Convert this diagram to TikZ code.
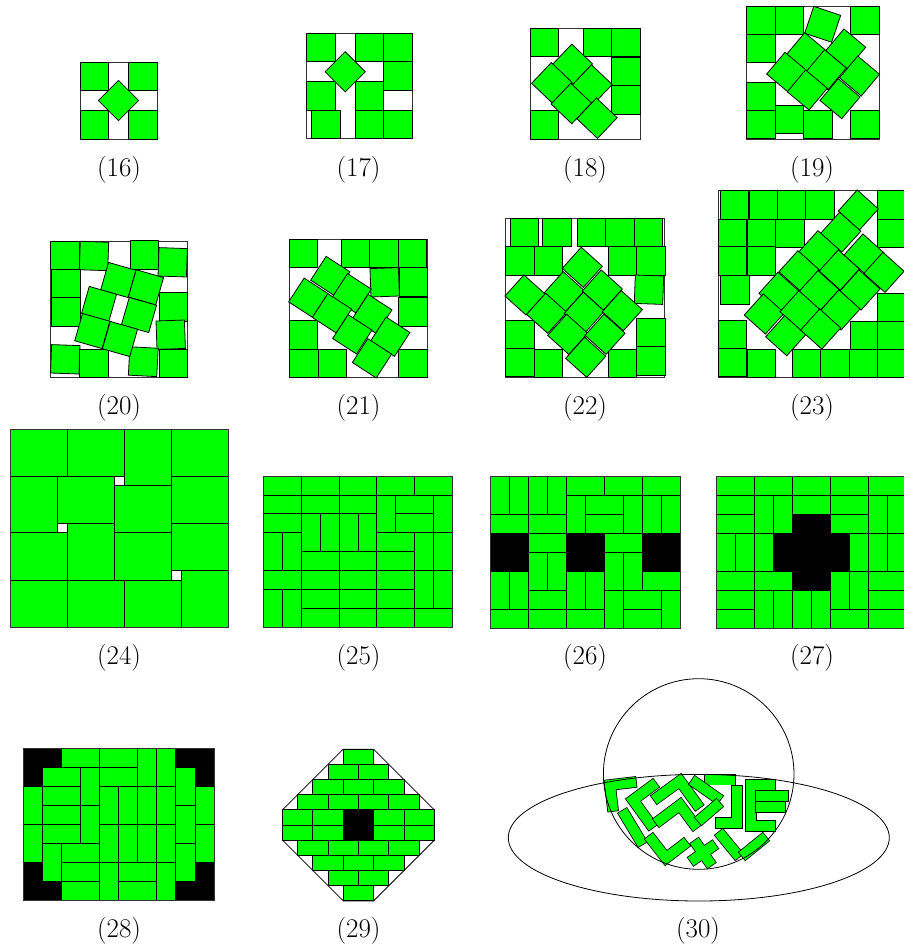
\documentclass[tikz,border=0pt]{standalone}
\usepackage{tikz}
\definecolor{grn}{RGB}{0,255,0}
\tikzset{
  sq/.style={fill=grn, draw=black, line width=0.8pt},
  frame/.style={draw=black!80, line width=0.8pt},
  lbl/.style={font=\fontsize{27}{32}\selectfont, inner sep=0pt, anchor=center},
  pcb/.style={line width=11.6pt, draw=black, line cap=rect, line join=miter},
  pcg/.style={line width=10pt, draw=grn, line cap=rect, line join=miter},
}
\newcommand{\Sq}[4]{\draw[sq, shift={(#1,#2)}, rotate={-1*(#3)}] (-#4/2,-#4/2) rectangle (#4/2,#4/2);}
\newcommand{\Sa}[3]{\draw[sq] (#1,#2) rectangle ++(#3,#3);}
\newcommand{\Hd}[2]{\draw[sq] (#1,#2) rectangle ++(2,1);}
\newcommand{\Vd}[2]{\draw[sq] (#1,#2) rectangle ++(1,2);}
\newcommand{\Bk}[4]{\fill[black] (#1,#2) rectangle ++(#3,#4);}
\newcommand{\Pc}[1]{\draw[pcb] #1; \draw[pcg] #1;}
\begin{document}
\begin{tikzpicture}[x=1pt,y=-1pt]
\useasboundingbox (0,0) rectangle (903,951);
% ---------- labels
\node[lbl] (l16) at (119,169.5) {(16)};
\node[lbl] (l17) at (358.5,169.5) {(17)};
\node[lbl] (l18) at (585,169.5) {(18)};
\node[lbl] (l19) at (812,169.5) {(19)};
\node[lbl] (l20) at (119,408) {(20)};
\node[lbl] (l21) at (358.5,408) {(21)};
\node[lbl] (l22) at (585,408) {(22)};
\node[lbl] (l23) at (812,408) {(23)};
\node[lbl] (l24) at (119,658) {(24)};
\node[lbl] (l25) at (358.5,658) {(25)};
\node[lbl] (l26) at (585,658) {(26)};
\node[lbl] (l27) at (812,658) {(27)};
\node[lbl] (l28) at (119,931) {(28)};
\node[lbl] (l29) at (358.5,931) {(29)};
\node[lbl] (l30) at (698,931) {(30)};
% ---------- (16)
\draw[frame] (80,62) rectangle (157,139);
\Sa{80}{62}{28.44} \Sa{128.56}{62}{28.44} \Sa{80}{110.56}{28.44} \Sa{128.56}{110.56}{28.44}
\Sq{118.5}{100.5}{45}{28.44}
% ---------- (17)
\draw[frame] (306.7,33.3) rectangle (412,138.6);
\Sa{306.7}{33.3}{28.4} \Sa{355.2}{33.3}{28.4} \Sa{383.6}{33.3}{28.4} \Sa{383.6}{61.7}{28.4}
\Sa{306.7}{81.8}{28.4} \Sa{355.2}{81.8}{28.4} \Sa{311.8}{110.2}{28.4} \Sa{355.2}{110.2}{28.4} \Sa{383.6}{110.2}{28.4}
\Sq{345.2}{71.8}{45}{28.4}
% ---------- (18)
\draw[frame] (530,28.3) rectangle (640.7,139);
\Sa{530}{28.3}{28.55} \Sa{583.3}{28.3}{28.55} \Sa{611.7}{28.3}{28.55} \Sa{611.7}{56.9}{28.55} \Sa{611.7}{85.8}{28.55} \Sa{530}{110.4}{28.55}
\Sq{572.3}{64.3}{43.6}{28.55} \Sq{551.8}{82.8}{43.6}{28.55} \Sq{592}{85}{43.6}{28.55} \Sq{571.3}{103.5}{43.6}{28.55} \Sq{597}{118.2}{43.6}{28.55}
% ---------- (19)
\draw[frame] (746.7,6) rectangle (879,139.3);
\Sa{746.7}{6}{28.4} \Sa{775.1}{6}{28.4} \Sa{850.6}{6}{28.4} \Sa{746.7}{34.4}{28.4} \Sa{746.7}{82}{28.4} \Sa{746.7}{110.4}{28.4}
\Sa{775.1}{105}{28.4} \Sa{803.5}{110.4}{28.4} \Sa{850.6}{110.4}{28.4}
\Sq{822.7}{24.3}{18.6}{28.4}
\Sq{806.5}{52.7}{40}{28.4} \Sq{845.7}{49}{40}{28.4} \Sq{786.7}{72.3}{40}{28.4} \Sq{826.3}{69.7}{40}{28.4}
\Sq{859.5}{76}{40}{28.4} \Sq{807.3}{90}{40}{28.4} \Sq{840}{98.7}{40}{28.4}
% ---------- (20)
\draw[frame] (50.7,241) rectangle (187.7,377.7);
\Sq{64.8}{255.2}{0}{28.4} \Sq{94}{256}{2}{28.4} \Sq{144.3}{255}{0}{28.4} \Sq{172.7}{262.3}{2}{28.4}
\Sq{65.7}{283.7}{0}{28.4} \Sq{65.7}{312}{0}{28.4} \Sq{173.3}{306.7}{0}{28.4} \Sq{170.7}{334.7}{-2}{28.4}
\Sq{65.3}{359.3}{2}{28.4} \Sq{94}{363.3}{0}{28.4} \Sq{143.3}{361.7}{3}{28.4} \Sq{173.3}{363.3}{0}{28.4}
\Sq{118.3}{280}{16}{28.4} \Sq{146}{287.3}{16}{28.4} \Sq{99}{304}{16}{28.4} \Sq{139}{315}{16}{28.4} \Sq{92.3}{331}{16}{28.4} \Sq{120}{339}{16}{28.4}
% ---------- (21)
\draw[frame] (289.3,239.3) rectangle (427.7,377.7);
\Sq{303.3}{253.3}{0}{28.4} \Sq{355.7}{253.3}{0}{28.4} \Sq{384}{253.3}{0}{28.4} \Sq{412.3}{253.3}{0}{28.4}
\Sq{384.7}{282.3}{-2}{28.4} \Sq{413.3}{281.7}{0}{28.4} \Sq{413}{311.7}{0}{28.4}
\Sq{303.3}{334.7}{0}{28.4} \Sq{304}{363.3}{0}{28.4} \Sq{332.3}{363.3}{0}{28.4} \Sq{413}{363.3}{0}{28.4}
\Sq{330.3}{276}{33}{28.4} \Sq{351.7}{293.3}{33}{28.4} \Sq{308.3}{297.7}{33}{28.4} \Sq{332}{313.3}{33}{28.4}
\Sq{372.3}{314}{33}{28.4} \Sq{352.3}{334.3}{33}{28.4} \Sq{390.3}{336.7}{33}{28.4} \Sq{372}{358.3}{33}{28.4}
% ---------- (22)
\draw[frame] (505,218.3) rectangle (664.3,377.7);
\Sa{510}{218.3}{28.4} \Sa{542.7}{218.3}{28.4} \Sa{577.7}{218.3}{28.4} \Sa{605.7}{218.3}{28.4} \Sa{634.3}{218.3}{28.4}
\Sa{505.7}{246.7}{28.4} \Sa{534}{246.7}{28.4} \Sa{608.3}{246.7}{28.4} \Sa{636.7}{246.7}{28.4}
\Sq{649}{289.7}{2}{28.4}
\Sa{505.7}{320}{28.4} \Sa{505.7}{348.3}{28.4} \Sa{534}{349.3}{28.4} \Sa{608.3}{349.3}{28.4} \Sa{636.7}{318.3}{28.4} \Sa{636.7}{346.7}{28.4}
\Sq{525}{295}{42}{28.4} \Sq{582.3}{267.3}{42}{28.4} \Sq{564.3}{291.7}{42}{28.4} \Sq{602.3}{290}{42}{28.4}
\Sq{546.7}{313.3}{42}{28.4} \Sq{584.3}{312.3}{42}{28.4} \Sq{622.3}{310.7}{42}{28.4}
\Sq{567.7}{334.3}{42}{28.4} \Sq{605}{334.3}{42}{28.4} \Sq{585.7}{357.3}{42}{28.4}
% ---------- (23)
\draw[frame] (718.3,190) rectangle (905,377.7);
\Sa{720}{190.7}{28.4} \Sa{749}{190.7}{28.4} \Sa{777.7}{190.7}{28.4} \Sa{805.7}{190.7}{28.4} \Sa{877.7}{190.7}{28.4}
\Sa{718.3}{219}{28.4} \Sa{747.3}{219}{28.4} \Sa{775.7}{219}{28.4} \Sa{877.7}{219}{28.4}
\Sa{718.3}{246.7}{28.4} \Sa{747.3}{246.7}{28.4} \Sa{720.7}{275.7}{28.4} \Sa{877.7}{293.3}{28.4}
\Sa{718.3}{320}{28.4} \Sa{850}{321.7}{28.4} \Sa{877.7}{321.7}{28.4}
\Sa{718.3}{348.3}{28.4} \Sa{747.3}{349.3}{28.4} \Sa{792.7}{349.3}{28.4} \Sa{820.7}{349.3}{28.4} \Sa{849}{349.3}{28.4} \Sa{877.7}{349.3}{28.4}
\Sq{858.3}{210}{42}{28.4} \Sq{840.7}{232.3}{42}{28.4} \Sq{819}{250.7}{42}{28.4} \Sq{864}{254}{42}{28.4}
\Sq{799}{270.7}{42}{28.4} \Sq{839.3}{270}{42}{28.4} \Sq{884}{272.3}{42}{28.4}
\Sq{779}{292.3}{42}{28.4} \Sq{819}{290.7}{42}{28.4} \Sq{860}{290}{42}{28.4}
\Sq{764.3}{314}{42}{28.4} \Sq{800}{310.7}{42}{28.4} \Sq{840}{310}{42}{28.4}
\Sq{785.7}{335.7}{42}{28.4} \Sq{820.7}{329}{42}{28.4}
% ---------- (24)
\draw[sq] (10.67,429) rectangle (67.67,476);
\draw[sq] (67.67,429) rectangle (124.33,476);
\draw[sq] (124.33,429) rectangle (171.67,485.67);
\draw[sq] (171.67,429) rectangle (228.33,476);
\draw[sq] (10.67,476) rectangle (57.67,532.67);
\draw[sq] (57.67,476) rectangle (114.33,523.33);
\draw[sq] (114.33,485.67) rectangle (171.67,532.67);
\draw[sq] (171.67,476) rectangle (228.33,523.33);
\draw[sq] (10.67,532.67) rectangle (67.67,580);
\draw[sq] (67.67,523.33) rectangle (114.33,580);
\draw[sq] (114.33,532.67) rectangle (171.67,580);
\draw[sq] (171.67,523.33) rectangle (228.33,570);
\draw[sq] (10.67,580) rectangle (67.67,627.67);
\draw[sq] (67.67,580) rectangle (124.33,627.67);
\draw[sq] (124.33,580) rectangle (181,627.67);
\draw[sq] (181,570) rectangle (228.33,627.67);
\draw[frame] (10.67,429) rectangle (228.33,627.67);
% ---------- (25)
\begin{scope}[shift={(263.3,476)}, x=18.93pt, y=-18.93pt]
\Hd{0}{0}\Hd{2}{0}\Hd{4}{0}\Hd{6}{0}\Hd{8}{0}
\Hd{0}{1}\Hd{2}{1}\Hd{4}{1}\Vd{6}{1}\Hd{7}{1}\Vd{9}{1}
\Hd{0}{2}\Vd{2}{2}\Vd{3}{2}\Vd{4}{2}\Vd{5}{2}\Hd{7}{2}
\Vd{0}{3}\Vd{1}{3}\Hd{6}{3}\Vd{8}{3}\Vd{9}{3}
\Hd{2}{4}\Hd{4}{4}\Hd{6}{4}
\Hd{0}{5}\Hd{2}{5}\Hd{4}{5}\Hd{6}{5}\Vd{8}{5}\Vd{9}{5}
\Vd{0}{6}\Vd{1}{6}\Hd{2}{6}\Hd{4}{6}\Hd{6}{6}
\Hd{2}{7}\Hd{4}{7}\Hd{6}{7}\Hd{8}{7}
\draw[frame] (0,0) rectangle (10,8);
\end{scope}
% ---------- (26)
\begin{scope}[shift={(490,476)}, x=19pt, y=-19pt]
\Bk{0}{3}{2}{2}\Bk{4}{3}{2}{2}\Bk{8}{3}{2}{2}
\Vd{0}{0}\Vd{1}{0}\Vd{2}{0}\Vd{3}{0}\Hd{4}{0}\Hd{6}{0}\Hd{8}{0}
\Vd{4}{1}\Hd{5}{1}\Vd{7}{1}\Vd{8}{1}\Vd{9}{1}
\Hd{0}{2}\Hd{2}{2}\Hd{5}{2}
\Hd{2}{3}\Hd{6}{3}
\Vd{2}{4}\Vd{3}{4}\Vd{6}{4}\Vd{7}{4}
\Vd{0}{5}\Vd{1}{5}\Vd{4}{5}\Vd{5}{5}\Hd{8}{5}
\Hd{2}{6}\Vd{6}{6}\Hd{7}{6}\Vd{9}{6}
\Hd{0}{7}\Hd{2}{7}\Hd{4}{7}\Hd{7}{7}
\draw[frame] (0,0) rectangle (10,8);
\end{scope}
% ---------- (27)
\begin{scope}[shift={(716.7,476)}, x=19pt, y=-19pt]
\Bk{4}{2}{2}{4}\Bk{3}{3}{4}{2}
\Hd{0}{0}\Hd{2}{0}\Hd{4}{0}\Hd{6}{0}\Hd{8}{0}
\Hd{0}{1}\Vd{2}{1}\Vd{3}{1}\Hd{4}{1}\Hd{6}{1}\Vd{8}{1}\Vd{9}{1}
\Hd{0}{2}\Hd{6}{2}
\Vd{0}{3}\Vd{1}{3}\Vd{2}{3}\Vd{7}{3}\Vd{8}{3}\Vd{9}{3}
\Hd{0}{5}\Hd{2}{5}\Vd{6}{5}\Vd{7}{5}\Hd{8}{5}
\Hd{0}{6}\Vd{2}{6}\Vd{3}{6}\Vd{4}{6}\Vd{5}{6}\Hd{8}{6}
\Hd{0}{7}\Hd{6}{7}\Hd{8}{7}
\draw[frame] (0,0) rectangle (10,8);
\end{scope}
% ---------- (28)
\begin{scope}[shift={(23.3,748.3)}, x=19.07pt, y=-19.07pt]
\Bk{0}{0}{2}{1}\Bk{0}{1}{1}{1}\Bk{8}{0}{2}{1}\Bk{9}{1}{1}{1}
\Bk{0}{6}{1}{1}\Bk{0}{7}{2}{1}\Bk{9}{6}{1}{1}\Bk{8}{7}{2}{1}
\Hd{2}{0}\Hd{4}{0}\Vd{6}{0}\Vd{7}{0}
\Hd{1}{1}\Vd{3}{1}\Hd{4}{1}\Vd{8}{1}
\Vd{0}{2}\Hd{1}{2}\Vd{4}{2}\Vd{5}{2}\Vd{6}{2}\Vd{7}{2}\Vd{9}{2}
\Hd{1}{3}\Vd{3}{3}\Vd{8}{3}
\Vd{0}{4}\Hd{1}{4}\Vd{4}{4}\Vd{5}{4}\Vd{6}{4}\Vd{7}{4}\Vd{9}{4}
\Vd{1}{5}\Hd{2}{5}\Vd{8}{5}
\Hd{2}{6}\Vd{4}{6}\Hd{5}{6}\Vd{7}{6}
\Hd{2}{7}\Hd{5}{7}
\draw[frame] (0,0) rectangle (10,8);
\end{scope}
% ---------- (29)
\begin{scope}[shift={(358.4,825)}, x=15.17pt, y=-15.17pt]
\draw[sq] (-1,-5) rectangle ++(2,1);
\draw[sq] (-2,-4) rectangle ++(2,1); \draw[sq] (0,-4) rectangle ++(2,1);
\foreach \a in {-3,-1,1} {\draw[sq] (\a,-3) rectangle ++(2,1); \draw[sq] (\a,2) rectangle ++(2,1);}
\foreach \a in {-4,-2,0,2} {\draw[sq] (\a,-2) rectangle ++(2,1); \draw[sq] (\a,1) rectangle ++(2,1);}
\foreach \a in {-5,-3,1,3} {\draw[sq] (\a,-1) rectangle ++(2,1); \draw[sq] (\a,0) rectangle ++(2,1);}
\fill[black] (-1,-1) rectangle (1,1);
\draw[sq] (-2,3) rectangle ++(2,1); \draw[sq] (0,3) rectangle ++(2,1);
\draw[sq] (-1,4) rectangle ++(2,1);
\draw[line width=0.8pt] (-1,-5) -- (1,-5) -- (5,-1) -- (5,1) -- (1,5) -- (-1,5) -- (-5,1) -- (-5,-1) -- cycle;
\end{scope}
% ---------- (30)
\Pc{(631,782.5)--(610,785)--(612.5,806)}
\Pc{(652,786)--(633,800)--(650,823.5)}
\Pc{(625,815)--(640,840)}
\Pc{(658,797)--(680,781)--(696.5,803.7)}
\Pc{(660,820)--(680,805)--(694,824)}
\Pc{(652,840)--(666,858)--(683,845)}
\Pc{(694.8,858.7)--(711.2,847.3) (697.3,844.8)--(708.7,861.2)}
\Pc{(710,779.5)--(730,779.5)}
\Pc{(696,783)--(716,797)}
\Pc{(702,818)--(716,806)}
\Pc{(737,791)--(737,823)--(721,823)}
\Pc{(722,836)--(736,853)}
\Pc{(746,853)--(762,840)}
\Pc{(770,784.5)--(750.8,784.5)--(750.8,826)--(770,826)}
\Pc{(761,795.8)--(783,795.8)}
\Pc{(761,806.7)--(780,806.7)}
\draw[line width=0.8pt] (698.7,774) circle (95.3);
\draw[line width=0.8pt] (698.8,837.7) ellipse (190.5 and 63.3);
\end{tikzpicture}
\end{document}
